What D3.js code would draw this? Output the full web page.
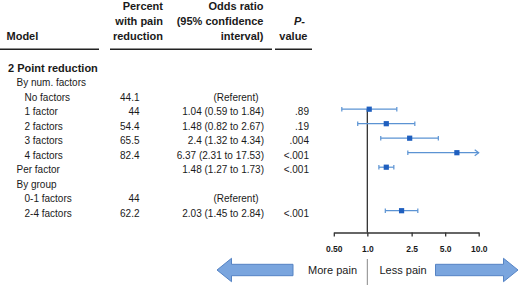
<!DOCTYPE html>
<html><head><meta charset="utf-8">
<script src="https://cdn.jsdelivr.net/npm/d3@7"></script>
<style>
html,body{margin:0;padding:0;background:#fff;}
svg{display:block;font-family:"Liberation Sans",Arial,sans-serif;}
</style></head><body>
<div id="chart"></div>
<script>
const rowLabels = ["2 Point reduction","By num. factors","No factors","1 factor","2 factors","3 factors","4 factors","Per factor","By group","0-1 factors","2-4 factors"];
const rowLevels = [0,1,2,2,2,2,2,1,1,2,2];
const percentVals = ["","","44.1","44","54.4","65.5","82.4","","","44","62.2"];
const orTexts = ["","","(Referent)","1.04 (0.59 to 1.84)","1.48 (0.82 to 2.67)","2.4 (1.32 to 4.34)","6.37 (2.31 to 17.53)","1.48 (1.27 to 1.73)","","(Referent)","2.03 (1.45 to 2.84)"];
const pTexts = ["","","",".89",".19",".004","<.001","<.001","","","<.001"];
const orVals = [null,null,null,1.04,1.48,2.4,6.37,1.48,null,null,2.03];
const ciLow  = [null,null,null,0.59,0.82,1.32,2.31,1.27,null,null,1.45];
const ciHigh = [null,null,null,1.84,2.67,4.34,17.53,1.73,null,null,2.84];
const tickVals = [0.5,1,2.5,5,10];
const tickLabels = ["0.50","1.0","2.5","5.0","10.0"];

const W=520,H=285;
const svg=d3.select("#chart").append("svg").attr("width",W).attr("height",H);
const txt="#1a1a1a";

const x=d3.scaleLog().domain([0.5,10]).range([333.8,478.7]);
const y=d3.scalePoint().domain(d3.range(rowLabels.length)).range([71.7,216.7]);

// header
const hdr=svg.append("g").attr("font-weight","bold").attr("font-size",11).attr("fill",txt);
hdr.append("text").attr("x",6.5).attr("y",39.5).text("Model");
[["Percent",10],["with pain",25],["reduction",39.5]].forEach(d=>hdr.append("text").attr("x",163).attr("y",d[1]).attr("text-anchor","end").text(d[0]));
[["Odds ratio",10],["(95% confidence",25],["interval)",39.5]].forEach(d=>hdr.append("text").attr("x",263.5).attr("y",d[1]).attr("text-anchor","end").text(d[0]));
hdr.append("text").attr("x",305).attr("y",25).attr("text-anchor","end").attr("font-style","italic").text("P-");
hdr.append("text").attr("x",307.5).attr("y",39.5).attr("text-anchor","end").text("value");
[[0,99],[110,272],[275,312]].forEach(s=>svg.append("line").attr("x1",s[0]).attr("x2",s[1]).attr("y1",49.3).attr("y2",49.3).attr("stroke","#222").attr("stroke-width",1.6));

// rows
const indent=[8,16.5,24.5];
const rows=svg.append("g").attr("fill",txt).attr("font-size",10);
rowLabels.forEach((l,i)=>{
  rows.append("text").attr("x",indent[rowLevels[i]]).attr("y",y(i))
    .attr("font-weight",rowLevels[i]===0?"bold":null).attr("font-size",rowLevels[i]===0?11:10).text(l);
  if(percentVals[i]) rows.append("text").attr("x",139.5).attr("y",y(i)).attr("text-anchor","end").text(percentVals[i]);
  if(orTexts[i]) rows.append("text").attr("x",orTexts[i]==="(Referent)"?258.5:264).attr("y",y(i)).attr("text-anchor","end").text(orTexts[i]);
  if(pTexts[i]) rows.append("text").attr("x",309).attr("y",y(i)).attr("text-anchor","end").text(pTexts[i]);
});

// reference line
const axisY=232.5;
svg.append("line").attr("x1",x(1)).attr("x2",x(1)).attr("y1",109).attr("y2",axisY).attr("stroke","#333").attr("stroke-width",1.3);

// forest
const ciCol="#5b93d3", ptCol="#1f5fbf";
const fg=svg.append("g");
orVals.forEach((v,i)=>{
  if(v==null) return;
  const cy=y(i)-6;
  const hiC=Math.min(ciHigh[i],10);
  const x0=x(ciLow[i]), x1=x(hiC);
  fg.append("line").attr("x1",x0).attr("x2",x1).attr("y1",cy).attr("y2",cy).attr("stroke",ciCol).attr("stroke-width",1.2);
  fg.append("line").attr("x1",x0).attr("x2",x0).attr("y1",cy-2.3).attr("y2",cy+2.3).attr("stroke",ciCol).attr("stroke-width",1.2);
  if(ciHigh[i]>10){
    fg.append("path").attr("d",`M${x1-4},${cy-3}L${x1},${cy}L${x1-4},${cy+3}`).attr("fill","none").attr("stroke",ciCol).attr("stroke-width",1.2);
  } else {
    fg.append("line").attr("x1",x1).attr("x2",x1).attr("y1",cy-2.3).attr("y2",cy+2.3).attr("stroke",ciCol).attr("stroke-width",1.2);
  }
  fg.append("rect").attr("x",x(v)-2.6).attr("y",cy-2.6).attr("width",5.2).attr("height",5.2).attr("fill",ptCol);
});

// axis
const ax=svg.append("g").attr("transform",`translate(0,${axisY})`)
  .call(d3.axisBottom(x).tickValues(tickVals).tickFormat((d,i)=>tickLabels[i]).tickSize(4).tickSizeOuter(0).tickPadding(9));
ax.select(".domain").attr("stroke","#333").attr("stroke-width",1.3);
ax.selectAll(".tick line").attr("stroke","#333").attr("stroke-width",1.3);
ax.selectAll(".tick text").attr("font-family","'Liberation Sans',Arial,sans-serif").attr("font-weight","bold").attr("font-size",8.5).attr("fill",txt);

// bottom arrows and labels
svg.append("line").attr("x1",x(1)).attr("x2",x(1)).attr("y1",259).attr("y2",285).attr("stroke","#888").attr("stroke-width",1);
svg.append("text").attr("x",357).attr("y",273.5).attr("text-anchor","end").attr("font-size",11).attr("fill",txt).text("More pain");
svg.append("text").attr("x",379.5).attr("y",273.5).attr("font-size",11).attr("fill",txt).text("Less pain");
const aFill="#7aa5de", aStroke="#5583c4";
svg.append("path").attr("d","M217,270L231.5,258.3L231.5,264.3L293,264.3L293,275.7L231.5,275.7L231.5,281.7Z").attr("fill",aFill).attr("stroke",aStroke).attr("stroke-width",1);
svg.append("path").attr("d","M518,270L503.5,258.3L503.5,264.3L435.5,264.3L435.5,275.7L503.5,275.7L503.5,281.7Z").attr("fill",aFill).attr("stroke",aStroke).attr("stroke-width",1);
</script></body></html>
